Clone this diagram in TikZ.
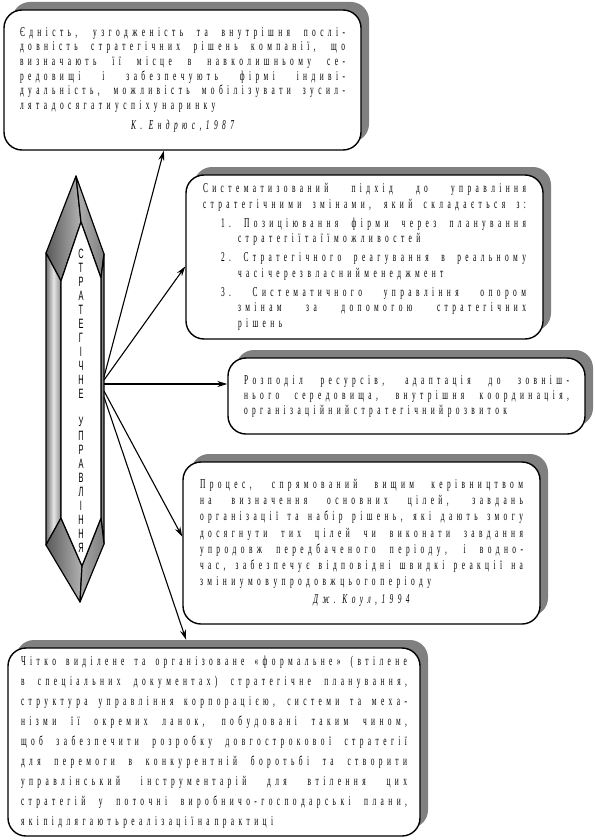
\documentclass[tikz,border=0pt]{standalone}
\usepackage{fontspec}
\setmainfont{Liberation Serif}
\newfontfamily\boxfont[FakeStretch=0.55]{Liberation Serif}
\newfontfamily\spinefont[FakeStretch=0.55]{Liberation Sans}
\usetikzlibrary{arrows.meta, positioning, calc, shadows}

% wide letter spacing, as in the scanned scheme
\newXeTeXintercharclass\spaced
\count255="0400
\loop\XeTeXcharclass\count255=\spaced\relax\ifnum\count255<"04FF\relax\advance\count255 by 1\repeat
\count255="0021
\loop\XeTeXcharclass\count255=\spaced\relax\ifnum\count255<"007E\relax\advance\count255 by 1\repeat
\XeTeXcharclass"00AB=\spaced
\XeTeXcharclass"00BB=\spaced
\XeTeXinterchartoks\spaced\spaced={\hskip 4.4pt minus 1.2pt\relax}

\newcommand{\spon}{\XeTeXinterchartokenstate=1\relax}
\newcommand{\jline}[1]{\makebox[\linewidth][s]{\spon\spaceskip=0.35em plus 1fil minus 0.1em\relax#1}}
\newcommand{\lline}[1]{\makebox[\linewidth][l]{\spon\spaceskip=0.35em\relax#1}}
\newcommand{\aline}[1]{\makebox[\linewidth][c]{\spon\itshape#1}}

\tikzset{
  infobox/.style={draw, line width=1.4pt, fill=white, rounded corners=18pt,
    minimum width=357pt, inner sep=0pt, align=left,
    font={\boxfont\fontsize{13.5}{#1}\selectfont},
    drop shadow={shadow xshift=8pt, shadow yshift=8pt, fill=black!50, opacity=1}},
  infobox/.default=14.6,
  link/.style={line width=1.1pt, -{Stealth[length=10pt,width=6pt]}},
  facet/.style={draw, line width=1.2pt, line join=round},
}

\begin{document}
\begin{tikzpicture}[x=1pt, y=-1pt]
  \useasboundingbox (0,0) rectangle (595,840);

  % Boxes
  \node[infobox=14.6, text width=325pt, minimum height=140pt] (b1) at (182.5,80) {%
    \jline{Єдність, узгодженість та внутрішня послі-}\\
    \jline{довність стратегічних рішень компанії, що}\\
    \jline{визначають її місце в навколишньому се-}\\
    \jline{редовищі і забезпечують фірмі індиві-}\\
    \jline{дуальність, можливість мобілізувати зусил-}\\
    \lline{ля та досягати успіху на ринку}\\[6pt]
    \aline{К. Ендрюс, 1987}};

  \node[infobox=15.5, text width=323pt, minimum height=164pt] (b2) at (364.5,257) {%
    \jline{Систематизований підхід до управління}\\
    \jline{стратегічними змінами, який складається з:}\\[3.5pt]
    \jline{\hspace*{18pt}1.\ Позиціювання фірми через планування}\\
    \lline{\hspace*{35pt}стратегії та її можливостей}\\[3.5pt]
    \jline{\hspace*{18pt}2.\ Стратегічного реагування в реальному}\\
    \lline{\hspace*{35pt}часі через власний менеджмент}\\[3.5pt]
    \jline{\hspace*{18pt}3.\ Систематичного управління опором}\\
    \jline{\hspace*{35pt}змінам за допомогою стратегічних}\\
    \lline{\hspace*{35pt}рішень}};

  \node[infobox=15, text width=325pt, minimum height=76pt] (b3) at (406.5,396) {%
    \jline{Розподіл ресурсів, адаптація до зовніш-}\\
    \jline{нього середовища, внутрішня координація,}\\
    \lline{організаційний стратегічний розвиток}};

  \node[infobox=16.2, text width=323pt, minimum height=162pt] (b4) at (361.5,543) {%
    \jline{Процес, спрямований вищим керівництвом}\\
    \jline{на визначення основних цілей, завдань}\\
    \jline{організації та набір рішень, які дають змогу}\\
    \jline{досягнути тих цілей чи виконати завдання}\\
    \jline{упродовж передбаченого періоду, і водно-}\\
    \jline{час, забезпечує відповідні швидкі реакції на}\\
    \lline{зміни умов упродовж цього періоду}\\[2pt]
    \aline{Дж. Коул, 1994}};

  \node[infobox=20, text width=386pt, minimum width=412pt, minimum height=188pt] (b5) at (214,742) {%
    \jline{Чітко виділене та організоване «формальне» (втілене}\\
    \jline{в спеціальних документах) стратегічне планування,}\\
    \jline{структура управління корпорацією, системи та меха-}\\
    \jline{нізми її окремих ланок, побудовані таким чином,}\\
    \jline{щоб забезпечити розробку довгострокової стратегії}\\
    \jline{для перемоги в конкурентній боротьбі та створити}\\
    \jline{управлінський інструментарій для втілення цих}\\
    \jline{стратегій у поточні виробничо-господарські плани,}\\
    \lline{які підлягають реалізації на практиці}};

  % Hexagon
  \coordinate (T) at (76,176);
  \coordinate (UR) at (104,254);
  \coordinate (LR) at (104,544);
  \coordinate (B) at (80,602);
  \coordinate (LL) at (46,545);
  \coordinate (UL) at (46,253);
  \coordinate (iT) at (81,222);
  \coordinate (iUR) at (101,278);
  \coordinate (iLR) at (101,518);
  \coordinate (iB) at (82,566);
  \coordinate (iLL) at (61,518);
  \coordinate (iUL) at (61,281);
  \draw[facet, left color=black!65, right color=black!30] (T) -- (UL) -- (iUL) -- (iT) -- cycle;
  \draw[facet, left color=black!30, right color=black!50] (T) -- (UR) -- (iUR) -- (iT) -- cycle;
  \draw[facet, left color=black!55, right color=black!45, middle color=black!10] (UL) -- (LL) -- (iLL) -- (iUL) -- cycle;
  \draw[facet, fill=black!45] (UR) -- (LR) -- (iLR) -- (iUR) -- cycle;
  \draw[facet, left color=black!65, right color=black!30] (LL) -- (B) -- (iB) -- (iLL) -- cycle;
  \draw[facet, left color=black!35, right color=black!50] (LR) -- (B) -- (iB) -- (iLR) -- cycle;
  \draw[facet, fill=white] (iT) -- (iUR) -- (iLR) -- (iB) -- (iLL) -- (iUL) -- cycle;
  \node[font={\spinefont\fontsize{13.5}{14}\selectfont}, align=center, inner sep=0pt, anchor=north] (spine) at (81,249)
    {С\\Т\\Р\\А\\Т\\Е\\Г\\І\\Ч\\Н\\Е\\[14pt]У\\П\\Р\\А\\В\\Л\\І\\Н\\Н\\Я};

  % Arrows
  \coordinate (h1) at (104,377);
  \coordinate (h2) at (104,380);
  \coordinate (h3) at (104,384);
  \coordinate (h4) at (104,391);
  \coordinate (h5) at (104,397);
  \draw[link] (h1) -- (b1);
  \draw[link] (h2) -- (b2.183);
  \draw[link] (h3) -- (h3 -| b3.west);
  \draw[link] (h4) -- (b4.178);
  \draw[link, shorten >=8pt] (h5) -- (b5.105);
\end{tikzpicture}
\end{document}
